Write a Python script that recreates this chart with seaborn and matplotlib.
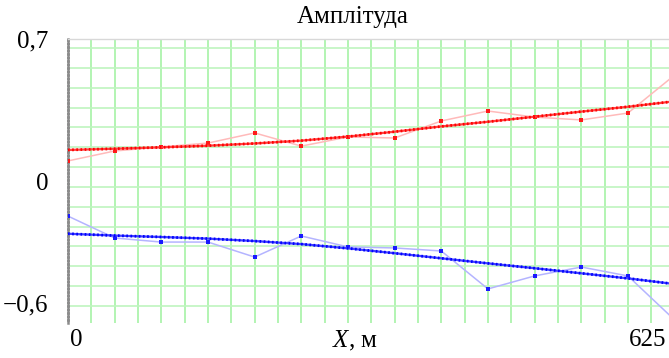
import numpy as np
import pandas as pd
import matplotlib
matplotlib.use("Agg")
import matplotlib.pyplot as plt
import matplotlib.transforms as mtransforms
import seaborn as sns

# Profile positions along the line, m
x_m = [0, 50, 100, 150, 200, 250, 300, 350, 400, 450, 500, 550, 600, 650]

# Measured amplitudes (upper and lower branch)
amp_upper = [0.099, 0.148, 0.168, 0.187, 0.237, 0.172, 0.217, 0.212,
             0.296, 0.345, 0.315, 0.301, 0.335, 0.522]
amp_lower = [-0.173, -0.281, -0.301, -0.301, -0.375, -0.271, -0.325, -0.330,
             -0.345, -0.532, -0.468, -0.424, -0.468, -0.685]

# Smoothed trends of the two branches
trend_upper = [0.153, 0.159, 0.166, 0.174, 0.185, 0.199, 0.219, 0.243,
               0.269, 0.292, 0.317, 0.342, 0.366, 0.393]
trend_lower = [-0.260, -0.269, -0.276, -0.284, -0.296, -0.311, -0.332, -0.356,
               -0.381, -0.406, -0.430, -0.455, -0.480, -0.508]

y_ticks = [0.7, 0.0, -0.6]
y_tick_labels = ["0,7", "0", "\u22120,6"]
x_ticks = [0, 625]
x_tick_labels = ["0", "625"]

df = pd.DataFrame({
    "x": x_m,
    "upper": amp_upper,
    "lower": amp_lower,
    "t_upper": trend_upper,
    "t_lower": trend_lower,
})

sns.set_theme(style="white")
plt.rcParams["font.family"] = ["Liberation Serif", "DejaVu Serif"]
plt.rcParams["mathtext.fontset"] = "custom"
plt.rcParams["mathtext.it"] = "Liberation Serif:italic"
plt.rcParams["mathtext.rm"] = "Liberation Serif"

FS = 18
fig = plt.figure(figsize=(6.69, 3.58), dpi=100)
ax = fig.add_axes([68 / 669, 1 - 323 / 358, 601 / 669, (323 - 39) / 358])

# grid
for gx in np.arange(25, 650, 25):
    ax.axvline(gx, color="#a6f2a6", lw=1.2, zorder=0)
for k in range(14):
    ax.axhline(0.6555 - k * 0.0978, color="#bff5bf", lw=1.2, zorder=0)

# measured curves
sns.lineplot(data=df, x="x", y="upper", ax=ax, color="#ffbaba", lw=1.1,
             marker="s", markersize=3.0, markerfacecolor="#ff1a1a",
             markeredgewidth=0, zorder=3)
sns.lineplot(data=df, x="x", y="lower", ax=ax, color="#b4b4ff", lw=1.1,
             marker="s", markersize=3.0, markerfacecolor="#1a1aff",
             markeredgewidth=0, zorder=3)

# trends
sns.lineplot(data=df, x="x", y="t_upper", ax=ax, color="#ff4040", lw=1.6, zorder=4)
sns.lineplot(data=df, x="x", y="t_upper", ax=ax, color="#ff0000", lw=2.0,
             linestyle=(0, (0.6, 0.9)), zorder=4)
sns.lineplot(data=df, x="x", y="t_lower", ax=ax, color="#4040ff", lw=1.6, zorder=4)
sns.lineplot(data=df, x="x", y="t_lower", ax=ax, color="#0000ff", lw=2.0,
             linestyle=(0, (0.6, 0.9)), zorder=4)

ax.set_xlim(0, 644)
ax.set_ylim(-0.70, 0.70)

ax.set_yticks(y_ticks)
ax.set_yticklabels(y_tick_labels, fontsize=FS)
ax.set_xticks(x_ticks)
ax.set_xticklabels(x_tick_labels, fontsize=FS)
ax.tick_params(axis="y", length=0, pad=14, colors="black")
ax.tick_params(axis="x", length=0, pad=4, colors="black")

# shift x tick labels slightly
shifts = [8, -4]
for lab, dx in zip(ax.get_xticklabels(), shifts):
    lab.set_transform(lab.get_transform() +
                      mtransforms.ScaledTranslation(dx / 100, 0, fig.dpi_scale_trans))

ax.set_xlabel("$X$, м", fontsize=FS, color="black")
ax.xaxis.set_label_coords((355 - 68) / 601, -0.022)
ax.set_ylabel("")

for side in ["right", "bottom"]:
    ax.spines[side].set_visible(False)
ax.spines["top"].set_color("#d8d8d8")
ax.spines["top"].set_linewidth(1.0)
ax.spines["left"].set_color("#8c8c8c")
ax.spines["left"].set_linewidth(1.8)
ax.spines["left"].set_linestyle((0, (1, 0.4)))

fig.text(353 / 669, 1 - 17 / 358, "Амплітуда", fontsize=FS,
         ha="center", va="center", color="black")

fig.savefig("out.png", dpi=100)
